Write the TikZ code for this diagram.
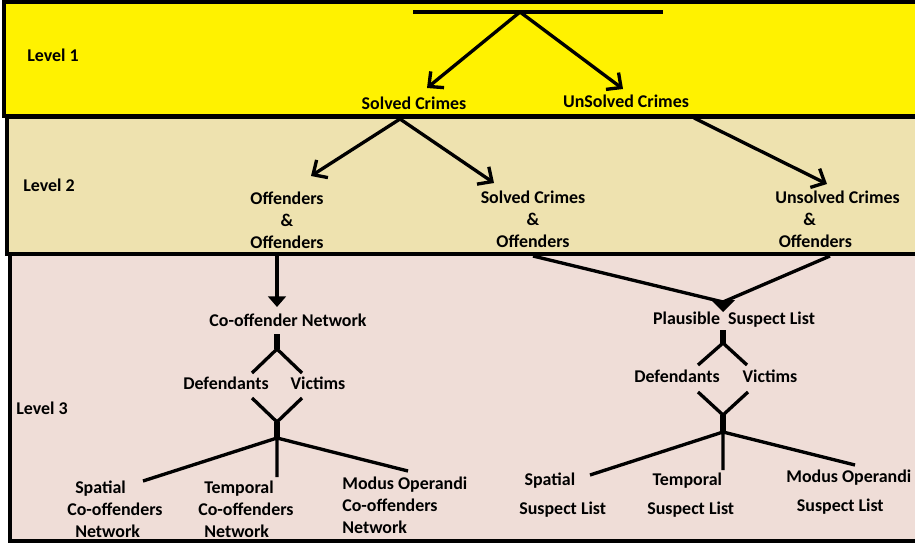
\documentclass[tikz,border=0pt]{standalone}
\usepackage{fontspec}
\setmainfont{Carlito}
\usepackage{tikz}
\usetikzlibrary{arrows.meta}
\definecolor{lvlone}{RGB}{255,242,0}
\definecolor{lvltwo}{RGB}{238,226,175}
\definecolor{lvlthree}{RGB}{239,221,215}

\begin{document}
\begin{tikzpicture}[x=0.02cm, y=-0.02cm,
				   every node/.style={font=\bfseries\fontsize{10.2}{12.5}\selectfont, align=center, inner sep=0pt},
				   band/.style={draw=black, line width=2.2pt},
				   link/.style={line width=1.9pt},
				   arrow/.style={link, -{Straight Barb[length=2.2mm, width=4.2mm]}},
				   bar/.style={line width=3.8pt}]
\useasboundingbox (0,0) rectangle (915,544);

% bands
\draw[band, fill=lvlthree] (10,254) rectangle (940,541);
\draw[band, fill=lvltwo] (7,117) rectangle (940,254);
\draw[band, fill=lvlone] (4,2) rectangle (940,116);

\node (lone) at (53,55) {Level 1};
\node (ltwo) at (49,185) {Level 2};
\node (lthree) at (42,408) {Level 3};

% level 1
\coordinate (apex) at (520,12);
\coordinate (sctip) at (427,88);
\coordinate (uctip) at (623,89);
\draw[link] (413,12) -- (663,12);
\draw[arrow] (apex) -- (sctip);
\draw[arrow] (apex) -- (uctip);
\node (solved) at (414,103) {Solved Crimes};
\node (unsolved) at (626,101) {UnSolved Crimes};

% level 2
\coordinate (scbase) at (400,119);
\coordinate (ucbase) at (694,118);
\coordinate (ootip) at (311,176);
\coordinate (sotip) at (494,183);
\coordinate (uotip) at (827,184);
\draw[arrow] (scbase) -- (ootip);
\draw[arrow] (scbase) -- (sotip);
\draw[arrow] (ucbase) -- (uotip);
\node (offoff) at (287,220) {Offenders\\\&\\Offenders};
\node (solvoff) at (533,219) {Solved Crimes\\\&\\Offenders};
\node[align=left, anchor=west] (unsoff) at (775,219) {Unsolved Crimes\\\hspace{16pt}\&\\\hspace{2pt}Offenders};

% level 3, co-offenders
\coordinate (cntop) at (277,255);
\coordinate (cntip) at (277,307);
\coordinate (cfork) at (277,349);
\coordinate (cdefup) at (252,373);
\coordinate (cvicup) at (302,373);
\coordinate (cdefdn) at (252,398);
\coordinate (cvicdn) at (302,398);
\coordinate (cjoin) at (277,422);
\coordinate (csplit) at (277,438);
\coordinate (cspatend) at (143,481);
\coordinate (ctempend) at (277,477);
\coordinate (cmodend) at (408,471);
\draw[link, -{Triangle[length=6pt, width=10pt]}] (cntop) -- (cntip);
\node (conet) at (288,320) {Co-offender Network};
\draw[bar] (277,334) -- (cfork);
\draw[link] (cfork) -- (cdefup) (cfork) -- (cvicup);
\node (cdef) at (226,383) {Defendants};
\node (cvic) at (318,383) {Victims};
\draw[link] (cdefdn) -- (cjoin) -- (cvicdn);
\draw[bar] (cjoin) -- (csplit);
\draw[link] (csplit) -- (cspatend) (csplit) -- (ctempend) (csplit) -- (cmodend);
\node[align=left, anchor=west] (cspat) at (67,509) {\hspace{4.5pt}Spatial\\Co-offenders\\\hspace{4.5pt}Network};
\node[align=left, anchor=west] (ctemp) at (198,509) {\hspace{3.4pt}Temporal\\Co-offenders\\\hspace{3.4pt}Network};
\node[align=left, anchor=west] (cmodus) at (342,505) {Modus Operandi\\Co-offenders\\Network};

% level 3, suspects
\coordinate (soleft) at (533,256);
\coordinate (uoright) at (830,256);
\coordinate (pmeet) at (723,302);
\coordinate (pfork) at (723,343);
\coordinate (pdefup) at (698,365);
\coordinate (pvicup) at (747,365);
\coordinate (pdefdn) at (698,392);
\coordinate (pvicdn) at (748,392);
\coordinate (pjoin) at (723,415);
\coordinate (psplit) at (723,432);
\coordinate (pspatend) at (590,475);
\coordinate (ptempend) at (723,470);
\coordinate (pmodend) at (855,465);
\draw[link] (soleft) -- (pmeet) -- (uoright);
\fill (711,300) -- (735,300) -- (723,312) -- cycle;
\node (psl) at (734,320) {Plausible~ Suspect List};
\draw[bar] (723,330) -- (pfork);
\draw[link] (pfork) -- (pdefup) (pfork) -- (pvicup);
\node (pdef) at (677,376) {Defendants};
\node (pvic) at (770,376) {Victims};
\draw[link] (pdefdn) -- (pjoin) -- (pvicdn);
\draw[bar] (pjoin) -- (psplit);
\draw[link] (psplit) -- (pspatend) (psplit) -- (ptempend) (psplit) -- (pmodend);
\node[align=left, anchor=west] (pspat) at (519,495) {\hspace{3pt}Spatial\\[4pt]Suspect List};
\node[align=left, anchor=west] (ptemp) at (647,495) {\hspace{3pt}Temporal\\[4pt]Suspect List};
\node[align=left, anchor=west] (pmodus) at (786,492) {Modus Operandi\\[4pt]\hspace{6pt}Suspect List};
\end{tikzpicture}
\end{document}
